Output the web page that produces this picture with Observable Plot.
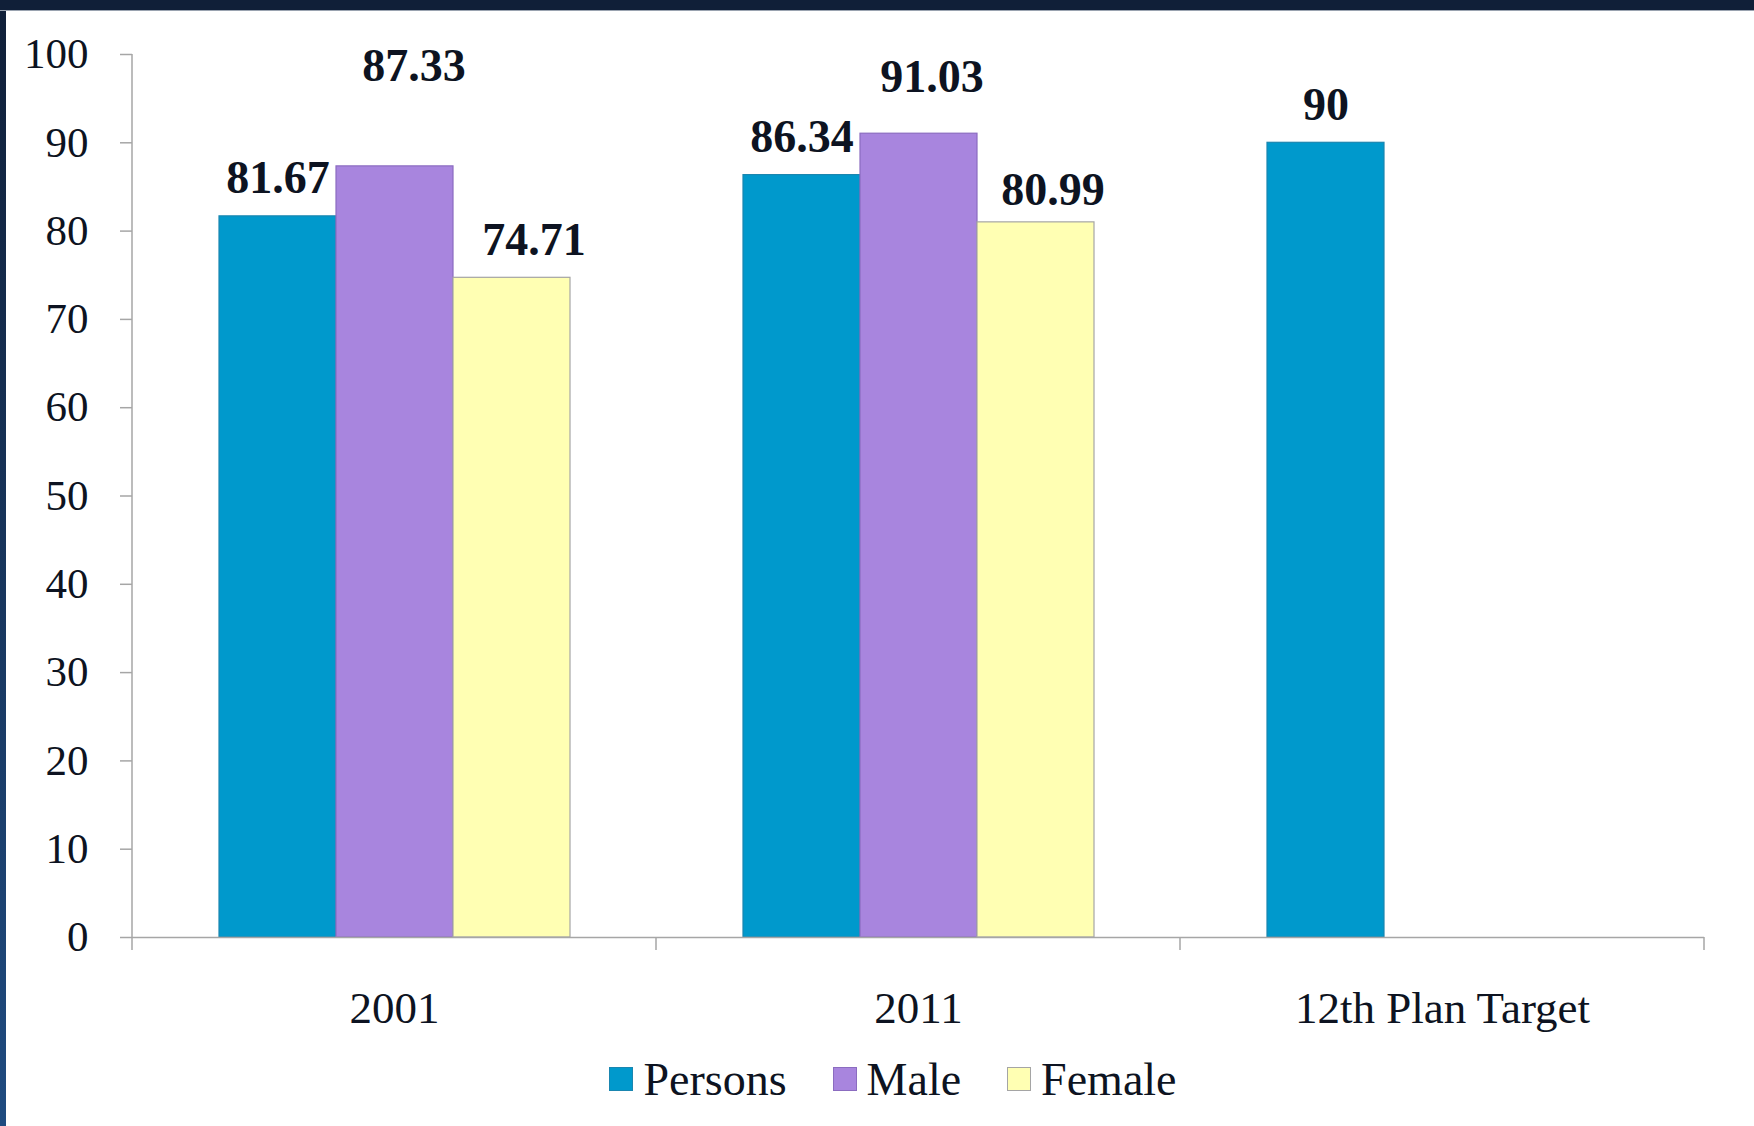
<!DOCTYPE html>
<html>
<head>
<meta charset="utf-8">
<script src="https://cdn.jsdelivr.net/npm/d3@7"></script>
<script src="https://cdn.jsdelivr.net/npm/@observablehq/plot@0.6"></script>
<style>
  html, body { margin: 0; padding: 0; background: #fff; }
  body { width: 1754px; height: 1126px; position: relative; overflow: hidden; font-family: "Liberation Serif", "Times New Roman", serif; }
  #chart svg, #chart svg text { font-family: "Liberation Serif", "Times New Roman", serif !important; }
  #topband { position: absolute; left: 0; top: 0; width: 1754px; height: 11px; background: #101f38; border-bottom: 1px solid #9aa3b0; box-sizing: border-box; }
  #leftband { position: absolute; left: 0; top: 0; width: 6px; height: 1126px; background: linear-gradient(#101f38, #1f4b80); }
  #chart { position: absolute; left: 6px; top: 11px; }
  #legend { position: absolute; left: 6px; top: 1051px; width: 1748px; box-sizing: border-box; padding-left: 26px;
            display: flex; justify-content: center; align-items: center; height: 56px; font-size: 46px; color: #0d1321;
            font-family: "Liberation Serif", "Times New Roman", serif; }
  .item { display: flex; align-items: center; margin: 0 23px; }
  .sw { width: 24px; height: 24px; box-sizing: border-box; margin-right: 10px; }
</style>
</head>
<body>
<div id="leftband"></div>
<div id="topband"></div>
<div id="chart"></div>
<div id="legend"></div>
<script>
// ---- data ----
const categories = ["2001", "2011", "12th Plan Target"];
const seriesNames = ["Persons", "Male", "Female"];
const persons = [81.67, 86.34, 90];
const male = [87.33, 91.03, null];
const female = [74.71, 80.99, null];
const yTicks = [0, 10, 20, 30, 40, 50, 60, 70, 80, 90, 100];

// ---- styles ----
const fills = ["#0099cc", "#a885de", "#ffffb3"];
const strokes = ["#1a86b0", "#8b6cc0", "#a5a5a5"];
// manual label nudges (dx, dy in px) as placed in the original slide
const labelNudge = {
  "2001|Male": [19, -62],
  "2001|Female": [22, 0],
  "2011|Male": [13, -19],
  "2011|Female": [17, 6]
};

const seriesValues = [persons, male, female];
const rows = [];
categories.forEach((c, i) => {
  seriesNames.forEach((s, j) => {
    const v = seriesValues[j][i];
    if (v != null) rows.push({category: c, series: s, value: v});
  });
});
const nudge = (d, k) => (labelNudge[d.category + "|" + d.series] || [0, 0])[k];

const textColor = "#0d1321";
const axisGray = "#a6a6a6";
const fontFamily = "'Liberation Serif', 'Times New Roman', serif";

const marks = [
  Plot.barY(rows, {fx: "category", x: "series", y: "value", fill: "series",
    stroke: d => strokes[seriesNames.indexOf(d.series)], strokeWidth: 1.2}),
  Plot.ruleY([0], {stroke: axisGray, strokeWidth: 1.5}),
  Plot.axisY({ticks: yTicks, tickSize: 12, tickPadding: 32, fontSize: 43, stroke: axisGray, fill: textColor,
    strokeWidth: 1.5, tickFormat: d => String(d), label: null, fontFamily}),
  Plot.axisFx({anchor: "bottom", tickSize: 0, tickPadding: 54, fontSize: 45, fill: textColor, label: null, fontFamily}),
];
// value labels, one text mark per nudge group
rows.forEach(r => {
  marks.push(Plot.text([r], {fx: "category", x: "series", y: "value", text: d => String(d.value),
    dx: nudge(r, 0), dy: -23 + nudge(r, 1), lineAnchor: "bottom", fontSize: 46, fontWeight: "bold", fill: textColor, fontFamily}));
});

const chart = Plot.plot({
  width: 1748,
  height: 1040,
  marginTop: 43,
  marginBottom: 114,
  marginLeft: 125,
  marginRight: 49,
  style: {fontFamily, background: "transparent", color: textColor},
  fx: {domain: categories, padding: 0},
  x: {domain: seriesNames, paddingInner: 0, paddingOuter: 0.733, axis: null},
  y: {domain: [0, 100]},
  color: {domain: seriesNames, range: fills},
  marks
});

// y axis line and category boundary ticks, from the library's fx and y scales
const fx = chart.scale("fx");
const ys = chart.scale("y");
const y0 = ys.apply(0);
const y100 = ys.apply(100);
const svg = d3.select(chart.tagName.toLowerCase() === "svg" ? chart : chart.querySelector("svg"));
const left = fx.apply(categories[0]);
const bounds = categories.map(c => fx.apply(c)).concat([fx.apply(categories[categories.length - 1]) + fx.bandwidth]);
const g = svg.append("g").attr("stroke", axisGray).attr("stroke-width", 1.5);
g.append("line").attr("x1", left).attr("x2", left).attr("y1", y100).attr("y2", y0);
bounds.forEach(bx => {
  g.append("line").attr("x1", bx).attr("x2", bx).attr("y1", y0).attr("y2", y0 + 13);
});

document.getElementById("chart").appendChild(chart);

// legend
const legend = d3.select("#legend");
seriesNames.forEach((s, i) => {
  const it = legend.append("div").attr("class", "item");
  it.append("div").attr("class", "sw").style("background", fills[i]).style("border", `1.5px solid ${strokes[i]}`);
  it.append("span").text(s);
});
</script>
</body>
</html>
